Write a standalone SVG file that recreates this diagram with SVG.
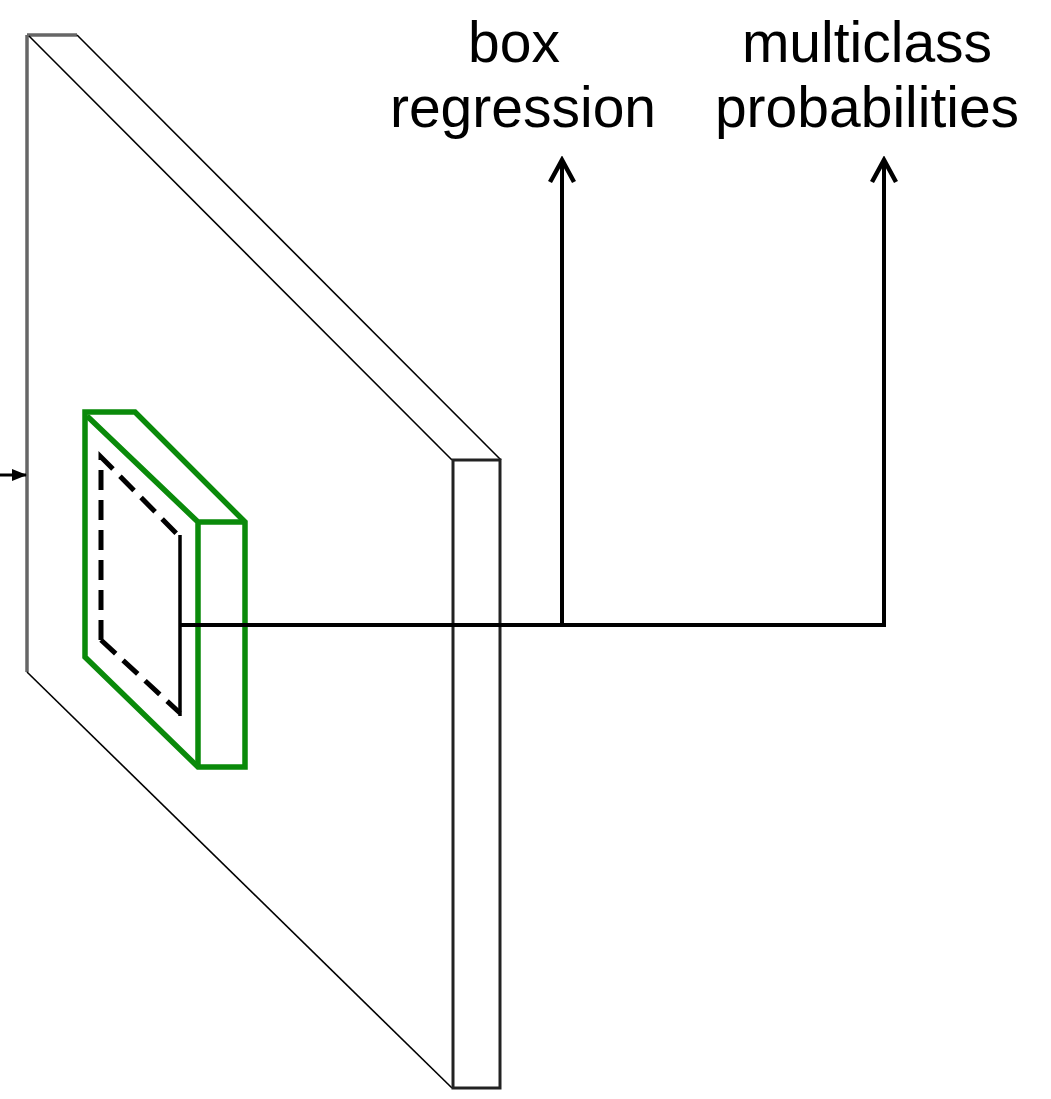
<svg xmlns="http://www.w3.org/2000/svg" width="1051" height="1099" viewBox="0 0 1051 1099">
<style>
.lbl{font-family:"Liberation Sans",Arial,sans-serif;font-size:57px;fill:#000;text-anchor:middle}
.thin{fill:none;stroke:#000;stroke-width:1.6}
.green{fill:none;stroke:#0a8a0a;stroke-width:5.5;stroke-linejoin:miter}
.conn{fill:none;stroke:#000;stroke-width:4}
</style>
<defs>
<marker id="chev" markerWidth="34" markerHeight="34" refX="0" refY="0" orient="auto" markerUnits="userSpaceOnUse" viewBox="-30 -17 34 34">
<path d="M-22,-12 L0,0 L-22,12" fill="none" stroke="#000" stroke-width="4.5"/>
</marker>
<marker id="tri" markerWidth="16" markerHeight="16" refX="14" refY="8" orient="auto" markerUnits="userSpaceOnUse" viewBox="0 0 16 16">
<path d="M0,2 L15,8 L0,14 Z" fill="#000"/>
</marker>
</defs>
<rect width="1051" height="1099" fill="#fff"/>
<g id="slab">
<line x1="27" y1="35" x2="27" y2="672" stroke="#666" stroke-width="3.5"/>
<line x1="27" y1="35" x2="77" y2="35" stroke="#666" stroke-width="3.5"/>
<line class="thin" x1="29" y1="36" x2="452" y2="460"/>
<line class="thin" x1="77" y1="35" x2="501" y2="460"/>
<line class="thin" x1="27" y1="672" x2="452" y2="1088"/>
<rect x="453" y="460" width="47" height="628" fill="#fff" stroke="#222" stroke-width="3"/>
</g>
<g id="window">
<path class="green" d="M85,412 L135,412 L245,522 L245,767 L198,767 L85,657 Z"/>
<path class="green" d="M87,416 L198,522 L245,522 M198,522 L198,767"/>
<path d="M101,640 L101,457 L180,537 M101,640 L180,713" fill="none" stroke="#000" stroke-width="5" stroke-dasharray="20,10"/>
<line x1="180" y1="535" x2="180" y2="716" stroke="#000" stroke-width="3.5"/>
</g>
<g id="connectors">
<line x1="0" y1="475" x2="26" y2="475" stroke="#000" stroke-width="3" marker-end="url(#tri)"/>
<path class="conn" d="M180,625 L884,625"/>
<line class="conn" x1="562" y1="625" x2="562" y2="160" marker-end="url(#chev)"/>
<line class="conn" x1="884" y1="627" x2="884" y2="160" marker-end="url(#chev)"/>
</g>
<g id="labels">
<text class="lbl" x="514" y="62">box</text>
<text class="lbl" x="523" y="127">regression</text>
<text class="lbl" x="867" y="62">multiclass</text>
<text class="lbl" x="867" y="127">probabilities</text>
</g>
</svg>
